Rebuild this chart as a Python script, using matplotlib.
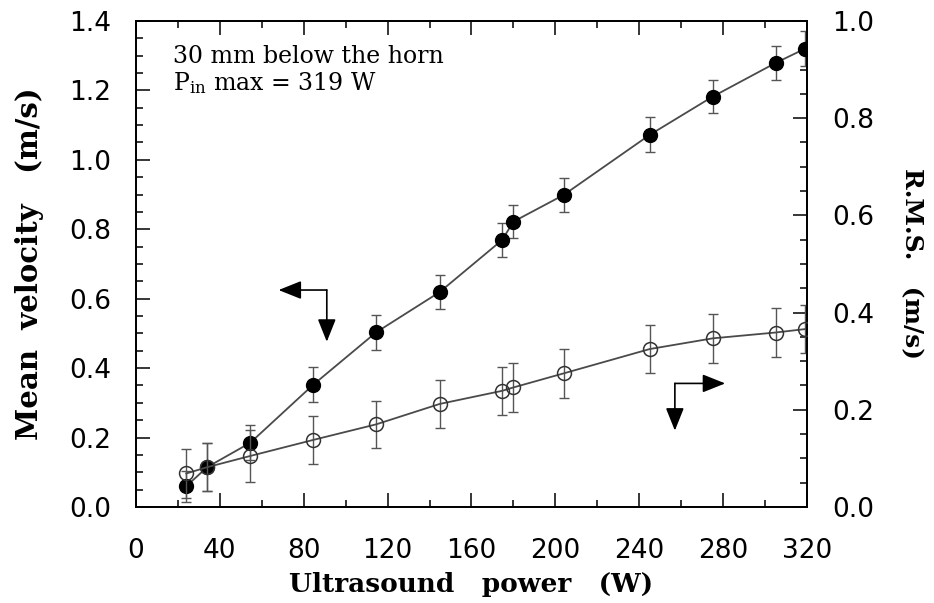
import numpy as np
import matplotlib.pyplot as plt
from matplotlib.ticker import MultipleLocator

# ultrasound power (W)
power = [24, 34, 54.5, 84.5, 114.5, 144.8, 174.6, 180, 204, 245, 275, 305, 319]

# mean velocity (m/s), left axis, filled circles
mean_vel = [0.06, 0.115, 0.185, 0.352, 0.503, 0.619, 0.769, 0.822, 0.899, 1.072, 1.182, 1.279, 1.32]
mean_err = [0.045, 0.07, 0.05, 0.05, 0.05, 0.05, 0.05, 0.048, 0.05, 0.05, 0.048, 0.048, 0.05]

# r.m.s. (m/s), right axis, open circles
rms = [0.069, 0.082, 0.105, 0.138, 0.170, 0.212, 0.239, 0.246, 0.275, 0.325, 0.347, 0.359, 0.366]
rms_err = [0.05, 0.05, 0.054, 0.05, 0.048, 0.05, 0.05, 0.05, 0.05, 0.05, 0.05, 0.05, 0.05]

plt.rcParams['mathtext.fontset'] = 'dejavuserif'

fig = plt.figure(figsize=(9.34, 6.03), dpi=100)
ax = fig.add_axes([0.1456, 0.1592, 0.7184, 0.806])
ax2 = ax.twinx()

line_col = '#4a4a4a'
err_col = '#555555'

# mean velocity
ax.errorbar(power, mean_vel, yerr=mean_err, fmt='none', ecolor=err_col,
            elinewidth=1.0, capsize=3.5, capthick=1.0, zorder=2)
ax.plot(power, mean_vel, '-', color=line_col, lw=1.3, zorder=3)
ax.plot(power, mean_vel, 'o', color='black', ms=10, zorder=4)

# r.m.s.
ax2.errorbar(power, rms, yerr=rms_err, fmt='none', ecolor=err_col,
             elinewidth=1.0, capsize=3.5, capthick=1.0, zorder=2)
ax2.plot(power, rms, '-', color=line_col, lw=1.3, zorder=3)
ax2.plot(power, rms, 'o', mfc='none', mec='#333333', mew=1.1, ms=10, zorder=4)

ax.set_xlim(0, 320)
ax.set_ylim(0, 1.4)
ax2.set_ylim(0, 1.0)

ax.xaxis.set_major_locator(MultipleLocator(40))
ax.xaxis.set_minor_locator(MultipleLocator(20))
ax.yaxis.set_major_locator(MultipleLocator(0.2))
ax.yaxis.set_minor_locator(MultipleLocator(0.05))
ax2.yaxis.set_major_locator(MultipleLocator(0.2))
ax2.yaxis.set_minor_locator(MultipleLocator(0.05))
ax.yaxis.set_major_formatter(lambda v, p: f'{v:.1f}')
ax2.yaxis.set_major_formatter(lambda v, p: f'{v:.1f}')

ax.tick_params(which='both', direction='in', top=True, right=False, width=1.1,
               labelsize=19, pad=18)
ax.tick_params(axis='x', which='both', pad=22)
ax.tick_params(which='major', length=10)
ax.tick_params(which='minor', length=5)
ax2.tick_params(which='both', direction='in', width=1.1, labelsize=19, pad=18)
ax2.tick_params(which='major', length=10)
ax2.tick_params(which='minor', length=5)
for a in (ax, ax2):
    for s in a.spines.values():
        s.set_linewidth(1.3)

ax.set_xlabel('Ultrasound   power   (W)', family='DejaVu Serif', weight='bold',
              fontsize=19, labelpad=6)
ax.set_ylabel('Mean  velocity   (m/s)', family='DejaVu Serif', weight='bold',
              fontsize=21, labelpad=18)
ax2.set_ylabel('R.M.S.   (m/s)', family='DejaVu Serif', weight='bold',
               fontsize=18, rotation=-90, labelpad=36)

ax.text(0.055, 0.9136, '30 mm below the horn', transform=ax.transAxes,
        family='DejaVu Serif', fontsize=17, va='baseline')
ax.text(0.055, 0.858, r'P$_{\mathregular{in}}$ max = 319 W', transform=ax.transAxes,
        family='DejaVu Serif', fontsize=17, va='baseline')

arrow = dict(arrowstyle='-|>,head_length=0.7,head_width=0.28', color='black',
             lw=1.2, shrinkA=0, shrinkB=0, mutation_scale=20)
# left-pointing bracket arrow (mean velocity -> left axis)
ax.annotate('', xy=(68, 0.625), xytext=(91, 0.625), arrowprops=arrow)
ax.annotate('', xy=(91, 0.476), xytext=(91, 0.625), arrowprops=arrow)
# right-pointing bracket arrow (rms -> right axis)
ax.annotate('', xy=(281, 0.356), xytext=(257, 0.356), arrowprops=arrow)
ax.annotate('', xy=(257, 0.22), xytext=(257, 0.356), arrowprops=arrow)

fig.savefig('out.png', dpi=100)
